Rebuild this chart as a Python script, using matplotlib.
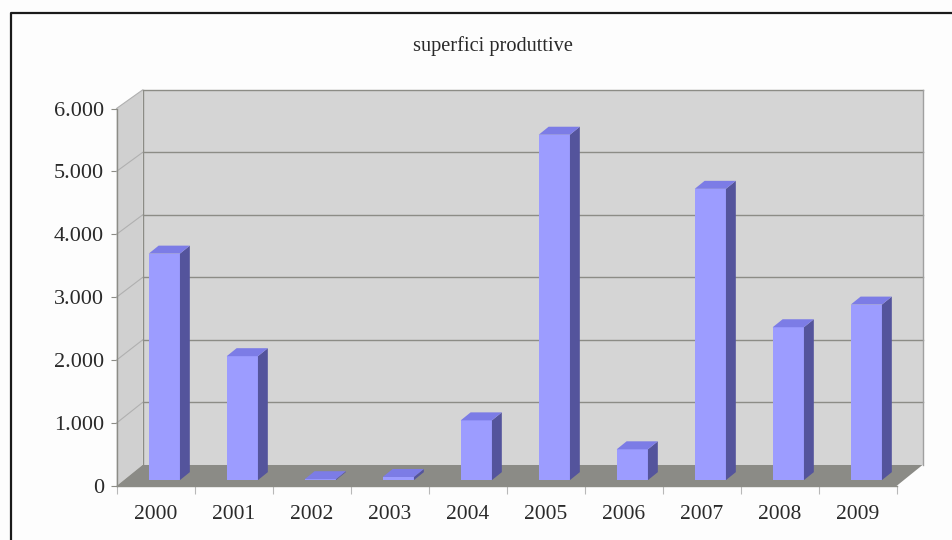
#!/usr/bin/env python3
# -*- coding: utf-8 -*-

import matplotlib
matplotlib.use("Agg")
import matplotlib.pyplot as plt
from matplotlib.lines import Line2D

plt.rcParams["font.family"] = ["Liberation Serif", "DejaVu Serif"]

years = ["2000", "2001", "2002", "2003", "2004", "2005", "2006", "2007", "2008", "2009"]
values = [3600, 1970, 15, 50, 950, 5490, 490, 4630, 2430, 2790]
y_ticks = [0, 1000, 2000, 3000, 4000, 5000, 6000]
y_labels = ["0", "1.000", "2.000", "3.000", "4.000", "5.000", "6.000"]
title = "superfici produttive"

W, H = 952, 540
LEFT, RIGHT, TOP, BOTTOM = 116.5, 896.5, 108.5, 486

# offset of the back wall, in data units
DX = 26 / 78.0
DY = 21 / 0.0629
BACK_SCALE = 375 / 377.5  # back wall is a bit shorter than the front axis
BAR_W = 0.40
BAR_FRONT = 0.28
BAR_BACK = 0.66

WALL = "#d5d5d5"
SIDE = "#d0d0d0"
FLOOR = "#8b8b86"
GRID = "#8c8c86"
FACE = "#9c9cff"
SHADE = "#54549c"
CAP = "#7c7ce6"


def depth(x, y, d):
    return x + DX * d, y + DY * d


def draw_bar(ax, i, v):
    x0 = i + 0.32
    x1 = x0 + BAR_W
    p = [depth(x0, 0, BAR_FRONT), depth(x1, 0, BAR_FRONT), depth(x1, v, BAR_FRONT), depth(x0, v, BAR_FRONT)]
    ax.fill(*zip(*p), color=FACE, lw=0, zorder=5, clip_on=False)
    s = [depth(x1, 0, BAR_FRONT), depth(x1, 0, BAR_BACK), depth(x1, v, BAR_BACK), depth(x1, v, BAR_FRONT)]
    ax.fill(*zip(*s), color=SHADE, lw=0, zorder=5, clip_on=False)
    c = [depth(x0, v, BAR_FRONT), depth(x1, v, BAR_FRONT), depth(x1, v, BAR_BACK), depth(x0, v, BAR_BACK)]
    ax.fill(*zip(*c), color=CAP, lw=0, zorder=6, clip_on=False)


fig = plt.figure(figsize=(W / 100, H / 100), dpi=100, facecolor="#fdfdfd")
ax = fig.add_axes([LEFT / W, 1 - BOTTOM / H, (RIGHT - LEFT) / W, (BOTTOM - TOP) / H])
ax.set_xlim(0, len(years))
ax.set_ylim(0, 6000)
ax.patch.set_visible(False)

# frame: only the top and left edges show in the picture
fig.add_artist(Line2D([10.5 / W, 10.5 / W, 1], [0, 1 - 12.5 / H, 1 - 12.5 / H],
                      transform=fig.transFigure, color="#1a1a1a", lw=1.6))

n = len(years)
top = y_ticks[-1]
back_top = top * BACK_SCALE + DY
# back wall, left wall, floor
ax.fill([DX, n + DX, n + DX, DX], [DY, DY, back_top, back_top], color=WALL, lw=0, zorder=1, clip_on=False)
ax.fill([0, DX, DX, 0], [0, DY, back_top, top], color=SIDE, lw=0, zorder=1, clip_on=False)
ax.fill([0, n, n + DX, DX], [0, 0, DY, DY], color=FLOOR, lw=0, zorder=2, clip_on=False)

# grid on the walls
for t in y_ticks[1:]:
    yb = t * BACK_SCALE + DY
    ax.plot([DX, n + DX], [yb, yb], color=GRID, lw=1.0, zorder=3, clip_on=False)
    ax.plot([0, DX], [t, yb], color="#b0b0b0", lw=0.8, zorder=3, clip_on=False)
ax.plot([DX, DX], [DY, back_top], color=GRID, lw=1.0, zorder=3, clip_on=False)
ax.plot([n + DX, n + DX], [DY, back_top], color="#a0a0a0", lw=1.0, zorder=3, clip_on=False)

for i, v in enumerate(values):
    draw_bar(ax, i, v)

for s in ["top", "right"]:
    ax.spines[s].set_visible(False)
for s in ["left", "bottom"]:
    ax.spines[s].set_color(GRID)
    ax.spines[s].set_linewidth(1.0)
    ax.spines[s].set_zorder(4)

ax.set_yticks(y_ticks)
ax.set_yticklabels(y_labels, fontsize=16, color="#2a2a2a")
ax.tick_params(axis="y", length=4, width=0.8, color=GRID, pad=5)

ax.set_xticks(range(n + 1))
ax.set_xticklabels([])
ax.set_xticks([i + 0.5 for i in range(n)], minor=True)
ax.set_xticklabels(years, minor=True, fontsize=15.5, color="#2a2a2a")
ax.tick_params(axis="x", which="major", length=6, width=0.8, color="#b8b8b8")
ax.tick_params(axis="x", which="minor", length=0, pad=14)

fig.text(493 / W, 1 - 46 / H, title, ha="center", va="center", fontsize=14.7, color="#2a2a2a")

fig.savefig("out.png", dpi=100, facecolor=fig.get_facecolor())
